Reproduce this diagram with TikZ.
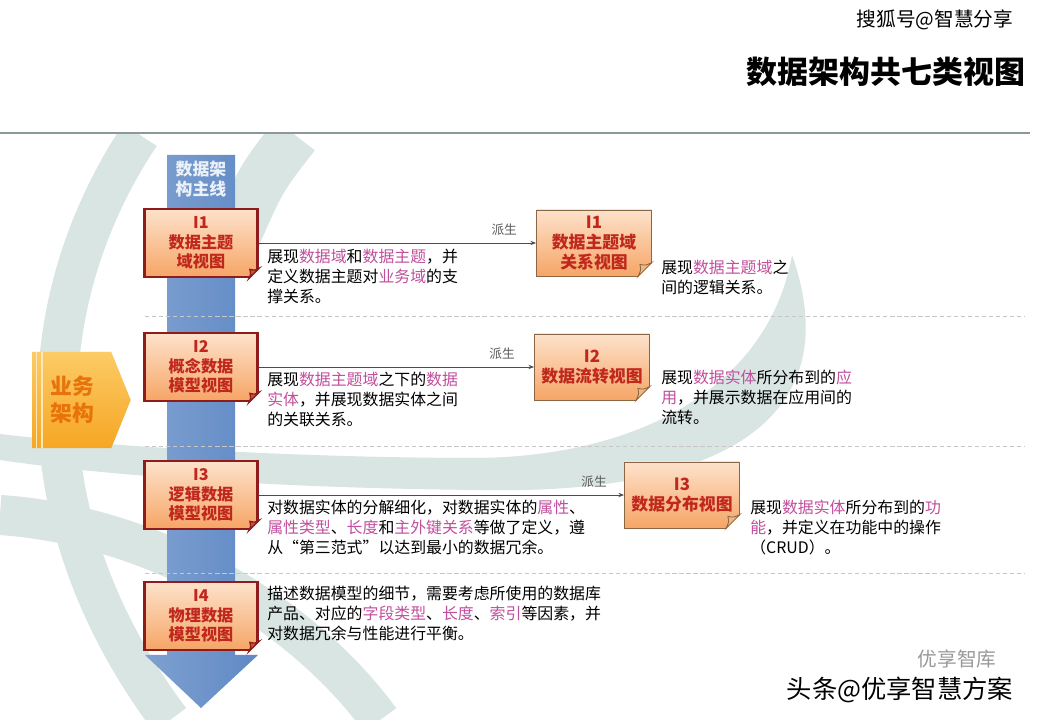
\documentclass[tikz,border=0pt]{standalone}
\usepackage{fontspec}
\setmainfont{Noto Sans CJK SC}
\usepackage{xcolor}
\usepackage{tikz}
\usetikzlibrary{arrows.meta}
\usetikzlibrary{shapes.symbols}

\definecolor{boxred}{HTML}{8E1C1C}
\definecolor{viewred}{HTML}{C0281E}
\definecolor{peachtop}{HTML}{FDE2CB}
\definecolor{peachbot}{HTML}{F6A566}
\definecolor{foldred}{HTML}{C9553A}
\definecolor{foldtan}{HTML}{E9B98A}
\definecolor{edgebrown}{HTML}{8A6644}
\definecolor{hlpink}{HTML}{C24E9E}
\definecolor{barblue}{HTML}{5F89C5}
\definecolor{swoosh}{HTML}{D8E5E3}
\definecolor{bizyellow}{HTML}{FCCB66}
\definecolor{bizorange}{HTML}{F6A623}
\definecolor{biztext}{HTML}{E8730C}
\definecolor{rulegray}{HTML}{8A9A98}

\newcommand{\hl}[1]{\textcolor{hlpink}{#1}}

\begin{document}
\begin{tikzpicture}[x=0.025cm, y=-0.025cm,
        viewbox/.style={draw=boxred, line width=2pt, top color=peachtop, bottom color=peachbot, minimum width=2.825cm, minimum height=1.7cm, align=center, inner sep=1pt, font=\fontsize{11.5}{14}\selectfont\bfseries, text=viewred},
        derivbox/.style={draw=edgebrown, line width=0.6pt, top color=peachtop, bottom color=peachbot, minimum width=2.875cm, minimum height=1.65cm, align=center, inner sep=1pt, font=\fontsize{12}{14.5}\selectfont\bfseries, text=viewred},
        bizbox/.style={shape=signal, signal to=east, signal pointer angle=136, top color=bizyellow, bottom color=bizorange, minimum width=2.45cm, minimum height=2.4cm, align=center, font=\fontsize{15.5}{19}\selectfont\bfseries, text=biztext},
        desc/.style={anchor=north west, align=left, inner sep=0pt, font=\fontsize{11.3}{14.2}\selectfont},
        tag/.style={font=\fontsize{9}{10}\selectfont, text=black!65, inner sep=1pt},
        arrow/.style={-{Stealth[length=4pt,width=3pt]}, line width=0.5pt, black!70},
        sep/.style={dash pattern=on 3pt off 2pt, black!22, line width=0.5pt}
      ]
        \useasboundingbox (0,0) rectangle (1040,720);
        \fill[white] (0,0) rectangle (1040,720);

        % background swooshes
        \begin{scope}
          \clip (0,135) rectangle (1040,720);
          \draw[swoosh, line width=1cm] (140,135) .. controls (30,300) and (20,520) .. (170,720);
          \draw[swoosh, line width=1.25cm] (295,135) .. controls (260,180) .. (230,250);
          \draw[swoosh, line width=1cm] (0,515) .. controls (150,525) and (300,610) .. (380,720);
          \fill[swoosh] (792,255) .. controls (850,420) and (720,495) .. (480,490)
            .. controls (250,488) and (80,472) .. (0,460) -- (0,434)
            .. controls (100,446) and (300,458) .. (480,458)
            .. controls (650,455) and (770,380) .. (792,255) -- cycle;
        \end{scope}

        \draw[rulegray, line width=1.4pt] (0,133) -- (1030,133);

        % main line arrow
        \shade[left color=barblue!80!white, right color=barblue] (167,155) -- (235,155) -- (235,655) -- (258,655) -- (201,708) -- (145,655) -- (167,655) -- cycle;
        \node[font=\fontsize{12}{14.5}\selectfont\bfseries, text=white!88!barblue, align=center] (mainline) at (201,179) {数据架\\构主线};

        \node[bizbox] (biz) at (72,400) {业务\\架构};
        \draw[white!55!bizyellow, line width=1.2pt] ([xshift=3pt]biz.north west) -- ([xshift=3pt]biz.south west);
        \draw[white!55!bizyellow, line width=1.2pt] ([xshift=7pt]biz.north west) -- ([xshift=7pt]biz.south west);

        \draw[sep] (145,316) -- (1025,316);
        \draw[sep] (145,446) -- (1025,446);
        \draw[sep] (145,573) -- (1025,573);

        % views on the main line
        \node[viewbox] (v1) at (201,243) {I1\\数据主题\\域视图};
        \node[viewbox] (v2) at (201,367) {I2\\概念数据\\模型视图};
        \node[viewbox] (v3) at (201,495) {I3\\逻辑数据\\模型视图};
        \node[viewbox] (v4) at (201,616) {I4\\物理数据\\模型视图};

        % derived views
        \node[derivbox] (d1) at (594,243) {I1\\数据主题域\\关系视图};
        \node[derivbox] (d2) at (592,367) {I2\\数据流转视图};
        \node[derivbox] (d3) at (682,495) {I3\\数据分布视图};

        \foreach \n in {v1,v2,v3,v4} {
          \fill[white] ([shift={(-11,2)}]\n.south east) -- ([shift={(2,2)}]\n.south east) -- ([shift={(2,-11)}]\n.south east) -- cycle;
          \filldraw[draw=boxred, line width=1pt, fill=foldred] ([shift={(-10,0)}]\n.south east) -- ([shift={(0,-10)}]\n.south east) .. controls ([shift={(-4,-8)}]\n.south east) .. ([shift={(-9,-9)}]\n.south east) .. controls ([shift={(-8,-4)}]\n.south east) .. cycle;
        }
        \foreach \n in {d1,d2,d3} {
          \fill[white] ([shift={(-15,2)}]\n.south east) -- ([shift={(2,2)}]\n.south east) -- ([shift={(2,-15)}]\n.south east) -- cycle;
          \filldraw[draw=edgebrown, line width=0.6pt, fill=foldtan] ([shift={(-14,0)}]\n.south east) -- ([shift={(0,-14)}]\n.south east) .. controls ([shift={(-6,-11)}]\n.south east) .. ([shift={(-12,-12)}]\n.south east) .. controls ([shift={(-11,-6)}]\n.south east) .. cycle;
        }

        \draw[arrow] (v1) -- node[tag, pos=0.885, above=4pt] {派生} (d1);
        \draw[arrow] (v2) -- node[tag, pos=0.884, above=4pt] {派生} (d2);
        \draw[arrow] (v3) -- node[tag, pos=0.918, above=4pt] {派生} (d3);

        % descriptions
        \node[desc] (t1) at (267,249) {展现\hl{数据域}和\hl{数据主题}，并\\定义数据主题对\hl{业务域}的支\\撑关系。};
        \node[desc] (t2) at (267,372) {展现\hl{数据主题域}之下的\hl{数据}\\\hl{实体}，并展现数据实体之间\\的关联关系。};
        \node[desc] (t3) at (267,500) {对数据实体的分解细化，对数据实体的\hl{属性}、\\\hl{属性类型}、\hl{长度}和\hl{主外键关系}等做了定义，遵\\从“第三范式”以达到最小的数据冗余。};
        \node[desc] (t4) at (267,586) {描述数据模型的细节，需要考虑所使用的数据库\\产品、对应的\hl{字段类型}、\hl{长度}、\hl{索引}等因素，并\\对数据冗余与性能进行平衡。};
        \node[desc] (s1) at (661,260) {展现\hl{数据主题域}之\\间的逻辑关系。};
        \node[desc] (s2) at (661,370) {展现\hl{数据实体}所分布到的\hl{应}\\\hl{用}，并展示数据在应用间的\\流转。};
        \node[desc] (s3) at (750,500) {展现\hl{数据实体}所分布到的\hl{功}\\\hl{能}，并定义在功能中的操作\\（CRUD）。};

        \node[anchor=east, font=\fontsize{22}{26}\selectfont\bfseries] (title) at (1030,72) {数据架构共七类视图};
        \node[font=\fontsize{14}{16}\selectfont] (wmtop) at (935,20) {搜狐号@智慧分享};
        \node[font=\fontsize{14}{16}\selectfont, text=black!40] (wmlib) at (957,659) {优享智库};
        \node[font=\fontsize{18}{20}\selectfont] (wmbot) at (900,690) {头条@优享智慧方案};
      \end{tikzpicture}
\end{document}
